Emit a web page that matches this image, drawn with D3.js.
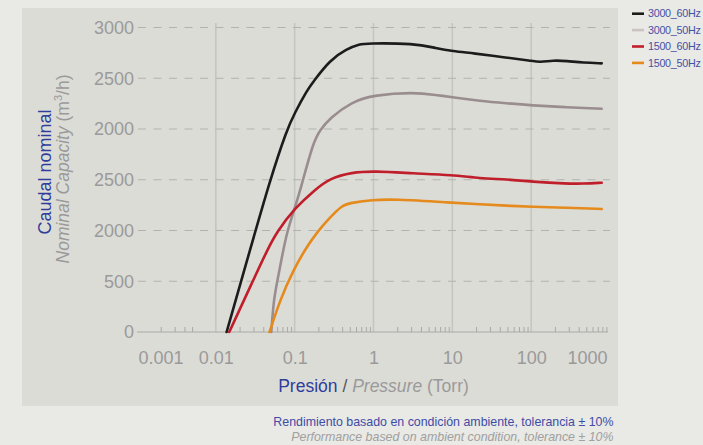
<!DOCTYPE html>
<html>
<head>
<meta charset="utf-8">
<script src="https://cdn.jsdelivr.net/npm/d3@7"></script>
<style>
  html, body { margin: 0; padding: 0; background: #e9e9e5; }
  svg { display: block; font-family: "Liberation Sans", Arial, Helvetica, sans-serif; }
</style>
</head>
<body>
<div id="chart"></div>
<script>
// axis ticks
const xTickValues = [0.001, 0.01, 0.1, 1, 10, 100, 1000];
const xTickLabels = ["0.001", "0.01", "0.1", "1", "10", "100", "1000"];
const yTickValues = [0, 500, 1000, 1500, 2000, 2500, 3000];
const yTickLabels = ["0", "500", "2000", "2500", "2000", "2500", "3000"];

// series (pressure in Torr, capacity in m3/h)
const seriesNames = ["3000_60Hz", "3000_50Hz", "1500_60Hz", "1500_50Hz"];

const p3000_60 = [0.0137, 0.0271, 0.0487, 0.0793, 0.1, 0.1446, 0.172, 0.281, 0.457, 0.675, 0.8, 3.3, 6.34, 10, 18.4, 49, 100, 129, 191, 282, 459, 785];
const q3000_60 = [0, 806, 1497, 1990, 2158, 2384, 2466, 2680, 2790, 2836, 2844, 2844, 2795, 2768, 2746, 2703, 2673, 2657, 2677, 2670, 2653, 2647];

const p3000_50 = [0.0505, 0.0542, 0.0597, 0.069, 0.08, 0.1, 0.118, 0.172, 0.21, 0.281, 0.529, 1.02, 3.2, 6.34, 10, 22.4, 49, 100, 282, 785];
const q3000_50 = [0, 315, 486, 742, 988, 1219, 1399, 1872, 1990, 2108, 2269, 2335, 2362, 2335, 2312, 2276, 2253, 2233, 2214, 2200];

const p1500_60 = [0.0148, 0.0299, 0.045, 0.0597, 0.1, 0.183, 0.281, 0.529, 1.02, 3.2, 10, 22.4, 49, 100, 282, 459, 785];
const q1500_60 = [0, 512, 810, 988, 1220, 1405, 1515, 1573, 1586, 1563, 1547, 1514, 1504, 1481, 1461, 1461, 1471];

const p1500_50 = [0.048, 0.0652, 0.0962, 0.1422, 0.198, 0.27, 0.398, 0.534, 0.957, 1.78, 10, 22.4, 49, 100, 282, 785];
const q1500_50 = [0, 315, 611, 840, 995, 1113, 1251, 1274, 1300, 1310, 1274, 1258, 1244, 1234, 1225, 1212];

const seriesPressure = [p3000_60, p3000_50, p1500_60, p1500_50];
const seriesCapacity = [q3000_60, q3000_50, q1500_60, q1500_50];

const lineColors = ["#1c1c1c", "#9a8d90", "#c01e2b", "#e58a1c"];
const legendColors = ["#1c1c1c", "#c9c3c3", "#c01e2b", "#e58a1c"];

const width = 703, height = 445;
const blue = "#2f3d9c";
const grey = "#9a9a9a";

const svg = d3.select("#chart").append("svg")
    .attr("width", width)
    .attr("height", height);

// panel
svg.append("rect")
    .attr("x", 22).attr("y", 8)
    .attr("width", 596).attr("height", 398)
    .attr("fill", "#dcdcd7");

const x = d3.scaleLog().domain([0.001, 1000]).range([137, 610]);
const y = d3.scaleLinear().domain([0, 3000]).range([332, 27.5]);

// vertical decade grid lines
svg.append("g")
    .selectAll("line")
    .data(xTickValues.filter(d => d > 0.001 && d < 1000))
    .join("line")
    .attr("x1", d => x(d)).attr("x2", d => x(d))
    .attr("y1", 23).attr("y2", y(0))
    .attr("stroke", "#c6c6c1")
    .attr("stroke-width", 1.6);

// horizontal dashed grid lines
svg.append("g")
    .selectAll("line")
    .data(yTickValues.filter(d => d > 0))
    .join("line")
    .attr("x1", 138).attr("x2", 610)
    .attr("y1", d => y(d)).attr("y2", d => y(d))
    .attr("stroke", "#b3b3ae")
    .attr("stroke-width", 1.2)
    .attr("stroke-dasharray", "8,7.5");

// x axis
const minorTicks = [];
xTickValues.slice(0, -1).forEach((d, i) => {
    const last = i === 0 ? 5 : 9;
    for (let k = 2; k <= last; k++) minorTicks.push(d * k);
});

const xAxis = svg.append("g")
    .attr("transform", `translate(0,${y(0)})`)
    .call(d3.axisBottom(x)
        .tickValues(minorTicks)
        .tickSize(-5)
        .tickFormat(""));
xAxis.select(".domain")
    .attr("d", `M137,0H608`)
    .attr("stroke", "#a8a8a6")
    .attr("stroke-width", 1.2);
xAxis.selectAll(".tick line")
    .attr("stroke", "#a8a8a6")
    .attr("stroke-width", 1);

const xLabels = svg.append("g")
    .attr("transform", `translate(0,${y(0)})`)
    .call(d3.axisBottom(x)
        .tickValues(xTickValues)
        .tickSize(0)
        .tickPadding(19)
        .tickFormat((d, i) => xTickLabels[i]));
xLabels.select(".domain").remove();
xLabels.selectAll(".tick text")
    .attr("font-family", "'Liberation Sans', Arial, sans-serif")
    .attr("font-size", 18)
    .attr("fill", grey)
    .attr("text-anchor", (d, i) => i === 0 ? "start" : (i === xTickValues.length - 1 ? "end" : "middle"))
    .attr("dx", (d, i) => i === 0 ? 1 : (i === xTickValues.length - 1 ? -3 : 0));

// y axis labels
const yLabels = svg.append("g")
    .attr("transform", "translate(134,0)")
    .call(d3.axisLeft(y)
        .tickValues(yTickValues)
        .tickSize(0)
        .tickPadding(0)
        .tickFormat((d, i) => yTickLabels[i]));
yLabels.select(".domain").remove();
yLabels.selectAll(".tick text")
    .attr("font-family", "'Liberation Sans', Arial, sans-serif")
    .attr("font-size", 18)
    .attr("fill", grey);

// curves
const line = d3.line()
    .x(d => x(d[0]))
    .y(d => y(d[1]))
    .curve(d3.curveBasis);

svg.append("g")
    .selectAll("path")
    .data(seriesNames.map((name, i) => seriesPressure[i].map((p, j) => [p, seriesCapacity[i][j]])))
    .join("path")
    .attr("d", line)
    .attr("fill", "none")
    .attr("stroke", (d, i) => lineColors[i])
    .attr("stroke-width", 2.6)
    .attr("stroke-linecap", "round")
    .attr("stroke-linejoin", "round");

// legend
const legend = svg.append("g")
    .selectAll("g")
    .data(seriesNames)
    .join("g")
    .attr("transform", (d, i) => `translate(632,${13.7 + i * 16.4})`);
legend.append("line")
    .attr("x1", 0).attr("x2", 12)
    .attr("stroke", (d, i) => legendColors[i])
    .attr("stroke-width", 2.6);
legend.append("text")
    .attr("x", 16)
    .attr("dy", "0.35em")
    .attr("font-size", 10.8)
    .attr("letter-spacing", -0.3)
    .attr("fill", "#4650a6")
    .text(d => d);

// y title
const yTitle = svg.append("text")
    .attr("transform", "translate(51,172) rotate(-90)")
    .attr("text-anchor", "middle")
    .attr("font-size", 18);
yTitle.append("tspan").attr("fill", blue).text("Caudal nominal");

const yTitle2 = svg.append("text")
    .attr("transform", "translate(69,169) rotate(-90)")
    .attr("text-anchor", "middle")
    .attr("font-size", 17.5)
    .attr("fill", grey);
yTitle2.append("tspan").attr("font-style", "italic").text("Nominal Capacity");
yTitle2.append("tspan").text(" (m");
yTitle2.append("tspan").attr("font-size", 11).attr("dy", -7).text("3");
yTitle2.append("tspan").attr("dy", 7).text("/h)");

// x title
const xTitle = svg.append("text")
    .attr("x", x(1))
    .attr("y", 391.5)
    .attr("text-anchor", "middle")
    .attr("font-size", 17.5);
xTitle.append("tspan").attr("fill", blue).text("Presión");
xTitle.append("tspan").attr("fill", "#555").text(" / ");
xTitle.append("tspan").attr("fill", grey).attr("font-style", "italic").text("Pressure");
xTitle.append("tspan").attr("fill", grey).text(" (Torr)");

// footnotes
svg.append("text")
    .attr("x", 613.5).attr("y", 426)
    .attr("text-anchor", "end")
    .attr("font-size", 12.4)
    .attr("fill", "#3e4ca6")
    .text("Rendimiento basado en condición ambiente, tolerancia ± 10%");
svg.append("text")
    .attr("x", 613.5).attr("y", 441)
    .attr("text-anchor", "end")
    .attr("font-size", 12.4)
    .attr("font-style", "italic")
    .attr("fill", "#a0a0a0")
    .text("Performance based on ambient condition, tolerance ± 10%");
</script>
</body>
</html>
